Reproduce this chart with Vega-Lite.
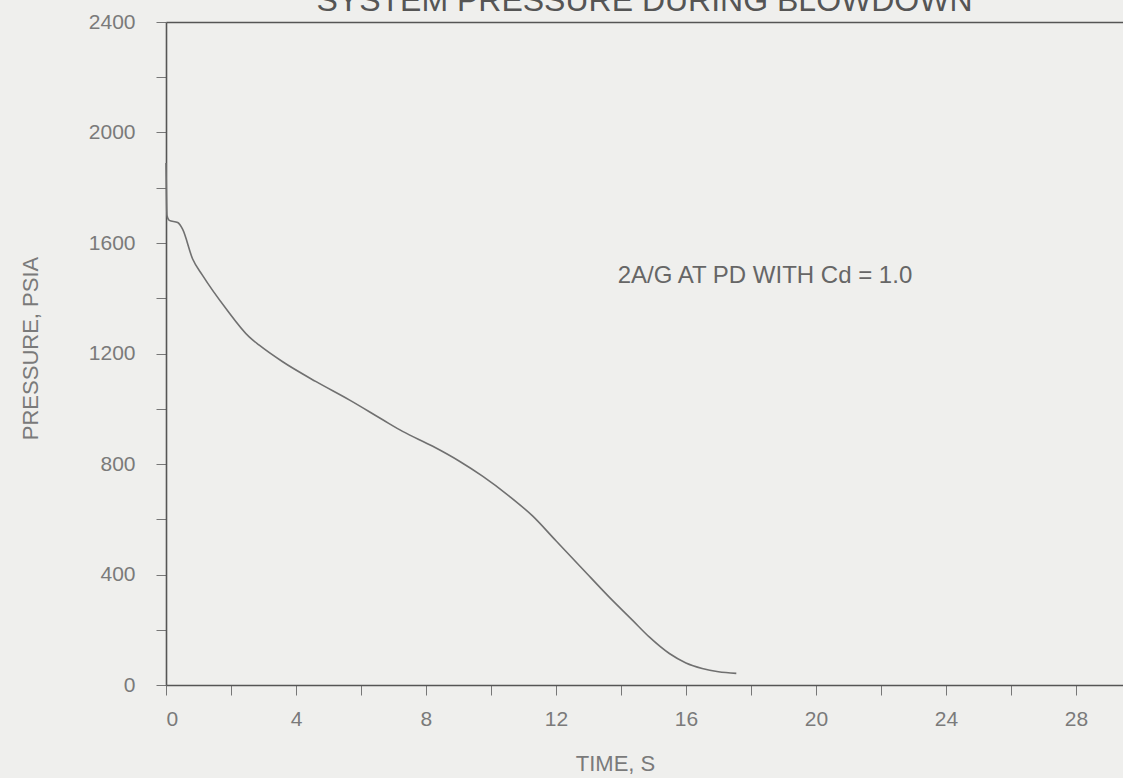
{
  "$schema": "https://vega.github.io/schema/vega-lite/v6.json",
  "width": 957,
  "height": 663,
  "autosize": {"type": "none"},
  "padding": {"left": 166, "top": 22, "right": 0, "bottom": 93},
  "background": "#efefed",
  "config": {
    "font": "Liberation Sans",
    "view": {"stroke": null},
    "axis": {"grid": false, "domainColor": "#555555", "domainWidth": 1.6, "tickColor": "#777777", "tickWidth": 1, "labelColor": "#7a7a7a", "titleColor": "#7a7a7a", "labelFont": "Liberation Sans", "titleFont": "Liberation Sans", "titleFontWeight": "normal"}
  },
  "title": {"text": "SYSTEM PRESSURE DURING BLOWDOWN", "fontSize": 32, "fontWeight": "normal", "color": "#555555", "anchor": "middle", "offset": -7, "font": "Liberation Sans"},
  "datasets": {
    "curve": [
      {"t": 0.0, "p": 1890},
      {"t": 0.03, "p": 1700},
      {"t": 0.1, "p": 1682},
      {"t": 0.36, "p": 1674},
      {"t": 0.51, "p": 1650},
      {"t": 0.82, "p": 1542},
      {"t": 1.13, "p": 1482},
      {"t": 1.85, "p": 1362},
      {"t": 2.56, "p": 1260},
      {"t": 2.87, "p": 1230},
      {"t": 3.59, "p": 1170},
      {"t": 4.62, "p": 1098},
      {"t": 5.64, "p": 1032},
      {"t": 6.67, "p": 960},
      {"t": 7.28, "p": 918},
      {"t": 8.21, "p": 864},
      {"t": 9.03, "p": 810},
      {"t": 9.74, "p": 756},
      {"t": 10.56, "p": 684},
      {"t": 11.28, "p": 612},
      {"t": 12.0, "p": 522},
      {"t": 12.82, "p": 420},
      {"t": 13.64, "p": 318},
      {"t": 14.36, "p": 234},
      {"t": 14.87, "p": 174},
      {"t": 15.49, "p": 114},
      {"t": 16.0, "p": 80},
      {"t": 16.5, "p": 60},
      {"t": 17.0, "p": 48},
      {"t": 17.55, "p": 42}
    ],
    "note": [
      {"t": 13.9, "p": 1482, "label": "2A/G AT PD WITH Cd = 1.0"}
    ]
  },
  "layer": [
    {
      "data": {"name": "curve"},
      "mark": {"type": "line", "color": "#707070", "strokeWidth": 1.6, "interpolate": "monotone"},
      "encoding": {
        "x": {
          "field": "t", "type": "quantitative",
          "scale": {"domain": [0, 29.45], "nice": false, "zero": false},
          "axis": {
            "title": "TIME, S", "titleFontSize": 22, "titleX": 449, "titleY": 78, "titleAlign": "center", "titleBaseline": "middle", "titleAnchor": null,
            "values": [0, 2, 4, 6, 8, 10, 12, 14, 16, 18, 20, 22, 24, 26, 28],
            "labelExpr": "datum.value % 4 === 0 ? datum.label : ''",
            "labelFontSize": 21, "tickSize": 10, "labelPadding": 13
          }
        },
        "y": {
          "field": "p", "type": "quantitative",
          "scale": {"domain": [0, 2400], "nice": false},
          "axis": {
            "title": "PRESSURE, PSIA", "titleFontSize": 22, "titleAngle": -90, "titleX": -136, "titleY": 326, "titleAlign": "center", "titleBaseline": "middle", "titleAnchor": null,
            "values": [0, 200, 400, 600, 800, 1000, 1200, 1400, 1600, 1800, 2000, 2200, 2400],
            "labelExpr": "datum.value % 400 === 0 ? datum.value : ''",
            "labelFontSize": 21, "tickSize": 10, "labelPadding": 21
          }
        }
      }
    },
    {
      "data": {"name": "note"},
      "mark": {"type": "text", "align": "left", "baseline": "middle", "fontSize": 24, "color": "#666666", "font": "Liberation Sans"},
      "encoding": {
        "x": {"field": "t", "type": "quantitative", "axis": {"orient": "top", "title": null, "labels": false, "ticks": false, "domain": true}},
        "y": {"field": "p", "type": "quantitative"},
        "text": {"field": "label"}
      }
    }
  ],
  "resolve": {"axis": {"x": "independent"}}
}
